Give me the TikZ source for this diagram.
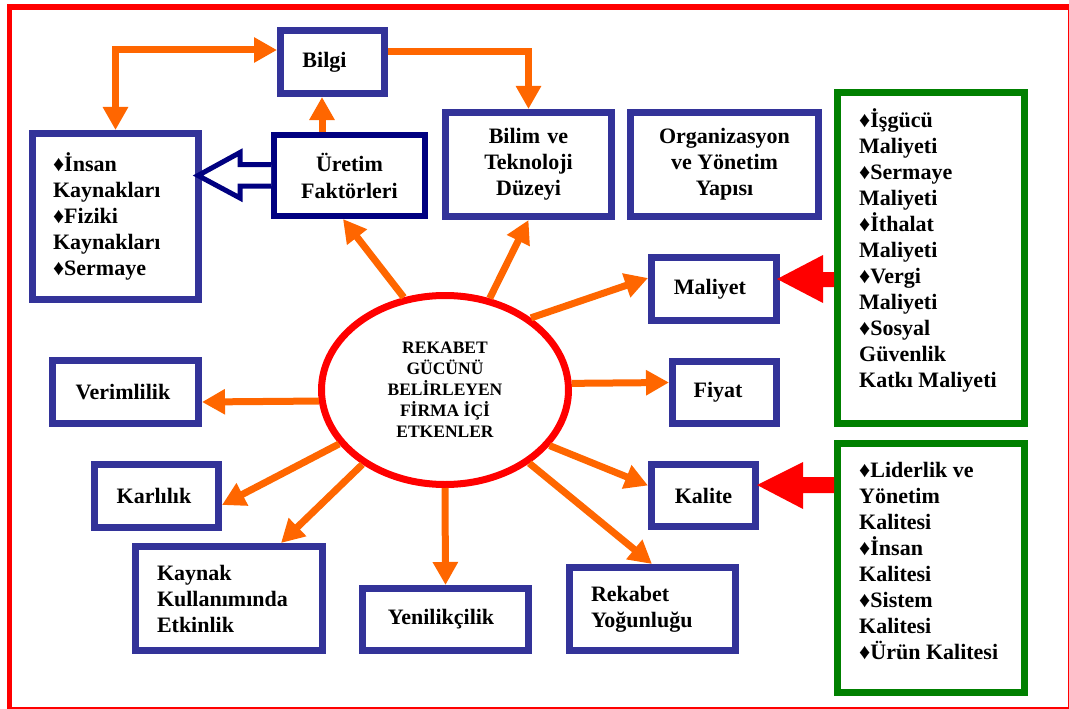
\documentclass[tikz,border=0pt]{standalone}
\usepackage{fontspec}
\setmainfont{Liberation Serif}
\usetikzlibrary{arrows.meta,shapes.geometric}
\definecolor{boxblue}{HTML}{333399}
\definecolor{navyline}{HTML}{000080}
\definecolor{arrorange}{HTML}{FF6600}
\definecolor{framered}{HTML}{FF0000}
\definecolor{listgreen}{HTML}{008000}
\begin{document}
\begin{tikzpicture}[x=1pt,y=-1pt,
  every node/.style={font=\bfseries\fontsize{22}{26}\selectfont, inner sep=0pt},
  bluebox/.style={draw=boxblue, line width=7pt, align=center},
  leftbox/.style={draw=boxblue, line width=7pt, align=left},
  greenbox/.style={draw=listgreen, line width=7pt},
  listtext/.style={align=left, anchor=west},
  ot/.tip={Triangle[length=23pt,width=24pt]},
  flow/.style={draw=arrorange, line width=7pt, -ot},
]
\useasboundingbox (0,0) rectangle (1069,709);

% outer frame
\begin{scope}
  \clip (0,0) rectangle (1069,709);
  \draw[framered, line width=5.5pt] (9.5,7) rectangle (1070.5,709.5);
\end{scope}

% boxes (trailing spaces nudge the labels slightly left)
\node[bluebox, minimum width=104pt, minimum height=63pt] (bilgi) at (332.5,62) {Bilgi\hspace{16pt}};
\node[leftbox, minimum height=166pt, text width=125pt, inner xsep=20.5pt] (insan) at (115.5,216.5)
  {♦İnsan\\Kaynakları\\♦Fiziki\\Kaynakları\\♦Sermaye};
\node[draw=navyline, line width=6pt, align=center, text width=151pt, minimum height=81pt,
  font=\bfseries\fontsize{22}{27}\selectfont] (uretim) at (349.5,175.5)
  {Üretim\hspace*{14pt}\\Faktörleri\hspace*{14pt}};
\node[bluebox, text width=166pt, minimum height=104pt] (bilim) at (528.5,164.5)
  {Bilim ve\hspace*{5pt}\\Teknoloji\hspace*{5pt}\\Düzeyi\hspace*{5pt}};
\node[bluebox, minimum width=188pt, minimum height=104pt] (organ) at (724.5,164.5) {Organizasyon\\ve Yönetim\\Yapısı};
\node[bluebox, minimum width=125pt, minimum height=63pt] (maliyet) at (714,289) {Maliyet\hspace{8pt}};
\node[bluebox, minimum width=104pt, minimum height=62pt] (fiyat) at (724.5,392.5) {Fiyat\hspace{13pt}};
\node[bluebox, minimum width=146pt, minimum height=63pt] (verim) at (125.5,392) {Verimlilik\hspace{5pt}};
\node[bluebox, minimum width=124pt, minimum height=63pt] (karl) at (156.5,496) {Karlılık\hspace{5pt}};
\node[leftbox, minimum height=104pt, text width=144pt, inner xsep=21.5pt] (kaynak) at (229,598.5)
  {Kaynak\\Kullanımında\\Etkinlik};
\node[bluebox, minimum width=166pt, minimum height=62pt] (yenilik) at (445.5,619.5) {Yenilikçilik\hspace{9pt}};
\node[leftbox, minimum height=83pt, text width=123pt, inner xsep=21.5pt] (rekabet) at (652.5,609)
  {Rekabet\\Yoğunluğu};
\node[bluebox, minimum width=104pt, minimum height=62pt] (kalite) at (703.5,495.5) {Kalite};

% green lists
\node[greenbox, minimum width=187pt, minimum height=331pt] (costbox) at (931,258) {};
\node[listtext] (costtext) at (859,250)
  {♦İşgücü\\Maliyeti\\♦Sermaye\\Maliyeti\\♦İthalat\\Maliyeti\\♦Vergi\\Maliyeti\\♦Sosyal\\Güvenlik\\Katkı Maliyeti};
\node[greenbox, minimum width=187pt, minimum height=249pt] (qualbox) at (931,568) {};
\node[listtext] (qualtext) at (859,561)
  {♦Liderlik ve\\Yönetim\\Kalitesi\\♦İnsan\\Kalitesi\\♦Sistem\\Kalitesi\\♦Ürün Kalitesi};

% central ellipse
\node[ellipse, draw=framered, line width=7pt, minimum width=247pt, minimum height=189pt,
  align=center, font=\bfseries\fontsize{17.5}{21}\selectfont] (core) at (445,390)
  {REKABET\\GÜCÜNÜ\\BELİRLEYEN\\FİRMA İÇİ\\ETKENLER};

% arrows from the centre
\draw[flow] (core.114.8) -- ([xshift=-6.5pt]uretim.south);
\draw[flow] (core.64.7) -- (bilim.south);
\draw[flow] (core.40.5) -- ([yshift=11pt]maliyet.west);
\draw[flow] (core.3.7) -- ([yshift=10pt]fiyat.west);
\draw[flow] (core.185.5) -- ([yshift=-10pt]verim.east);
\draw[flow] (core.207.7) -- ([yshift=-9pt]karl.east);
\draw[flow] (core.222) -- ([xshift=52pt]kaynak.north);
\draw[flow] (core.270) -- (yenilik.north);
\draw[flow] (core.319.3) -- ([xshift=-0.5pt]rekabet.north);
\draw[flow] (core.332.4) -- ([yshift=10pt]kalite.west);

% links around Bilgi
\draw[flow, ot-ot] (insan.north) |- ([yshift=12pt]bilgi.west);
\draw[flow] ([xshift=-27.5pt]uretim.north) -- ++(0,-35);
\draw[flow] ([yshift=10pt]bilgi.east) -| (bilim.north);

% hollow arrow from Üretim Faktörleri
\draw[navyline, line width=5pt, fill=white] ([yshift=11pt]uretim.west) -- ++(-31,0) -- ++(0,-12)
  -- ++(-42,23) -- ++(42,22.5) -- ++(0,-12) -- ++(31,0);

% red block arrows from the lists
\fill[framered] ([yshift=-14pt]costbox.west) -- ++(-11,0) -- ++(0,-17) -- ++(-46,24)
  -- ++(46,24) -- ++(0,-16) -- ++(11,0) -- cycle;
\fill[framered] ([yshift=91pt]qualbox.west) -- ++(-31,0) -- ++(0,-15) -- ++(-46,23)
  -- ++(46,24) -- ++(0,-16) -- ++(31,0) -- cycle;
\end{tikzpicture}
\end{document}
